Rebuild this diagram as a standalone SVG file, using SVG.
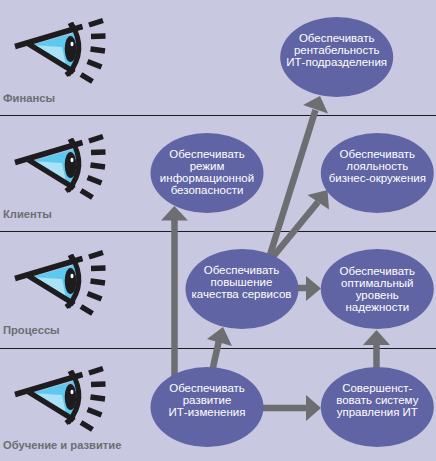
<svg xmlns="http://www.w3.org/2000/svg" xmlns:xlink="http://www.w3.org/1999/xlink" width="436" height="461" viewBox="0 0 436 461">
<style>
.n{fill:#6064a4}
.t{font-family:"Liberation Sans",Arial,sans-serif;font-size:11.500px;fill:#fff;text-anchor:middle}
.l{font-family:"Liberation Sans",Arial,sans-serif;font-size:11.200px;font-weight:bold;fill:#6d6e71}
.r{stroke:#1c1c20;stroke-width:1.2}
.c{stroke:#6d6e71;stroke-width:6.500;fill:none}
.h{fill:#6d6e71}
.k{stroke:#1e1c1f;fill:none;stroke-linecap:butt}
</style>
<defs>
<g id="eye">
<path d="M31 45 L74 33 Q83 55 70 68 Z" fill="#5fc8ee"/>
<path d="M31 45 L62 47 L66 66 Z" fill="#a9e2f6"/>
<path d="M15 46.500 L82.500 26.500 M27 43 L74 72" class="k" stroke-width="5.500"/>
<path d="M71 23 Q88 50 68 75" class="k" stroke-width="5"/>
<path d="M70 23 L74 31 M66 75 L74 69" class="k" stroke-width="5"/>
<ellipse cx="70.500" cy="49" rx="5.800" ry="13" fill="#1e1c1f"/>
<ellipse cx="72" cy="44" rx="1.500" ry="2.200" fill="#fff"/>
<path d="M89 25 L103 20.500 M91 36.500 L105.500 36 M90.500 49 L105 51 M87.500 61.500 L101.500 67 M81 74.500 L92.500 81.500" class="k" stroke-width="5.500"/>
</g>
</defs>
<rect width="436" height="461" fill="#c8c8e0"/>
<g id="rules">
<path class="r" d="M0 115.500H436M0 231.500H436M0 348.500H436"/>
</g>
<g id="connectors">
<path class="c" d="M174.500 380V218"/><path class="h" d="M174.300 206L188 220.500H161Z"/>
<path class="c" d="M212 372L219.500 338"/><path class="h" d="M223 327L232 346L207 339Z"/>
<path class="c" d="M269 258L315.500 110"/><path class="h" d="M320 96L328 113.500L303 105Z"/>
<path class="c" d="M272 258L318 202"/><path class="h" d="M327.500 190L329 209.500L307.500 195Z"/>
<path class="c" d="M297 288H308"/><path class="h" d="M321 288.500L306 276V301Z"/>
<path class="c" d="M262 408H308"/><path class="h" d="M321 408L306 395V421Z"/>
<path class="c" d="M376.500 368V343"/><path class="h" d="M376.500 330L390 345H363Z"/>
</g>
<g id="eye-finance"><use xlink:href="#eye"/></g>
<g id="eye-clients"><use xlink:href="#eye" y="116"/></g>
<g id="eye-process"><use xlink:href="#eye" y="232"/></g>
<g id="eye-learn"><use xlink:href="#eye" y="348"/></g>
<g id="label-finance"><text class="l" x="3" y="102">Финансы</text></g>
<g id="label-clients"><text class="l" x="3" y="218">Клиенты</text></g>
<g id="label-process"><text class="l" x="3" y="334">Процессы</text></g>
<g id="label-learn"><text class="l" x="3" y="449">Обучение и развитие</text></g>
<g id="node-profit"><ellipse class="n" cx="336.700" cy="57" rx="56.500" ry="40"/>
<text class="t" x="336.700" y="42">Обеспечивать</text><text class="t" x="336.700" y="54">рентабельность</text><text class="t" x="336.700" y="66">ИТ-подразделения</text></g>
<g id="node-security"><ellipse class="n" cx="207" cy="173" rx="56.500" ry="40"/>
<text class="t" x="207" y="158">Обеспечивать</text><text class="t" x="207" y="170">режим</text><text class="t" x="207" y="182">информационной</text><text class="t" x="207" y="194">безопасности</text></g>
<g id="node-loyalty"><ellipse class="n" cx="377.300" cy="173" rx="56.500" ry="40"/>
<text class="t" x="377.300" y="158">Обеспечивать</text><text class="t" x="377.300" y="170">лояльность</text><text class="t" x="377.300" y="182">бизнес-окружения</text></g>
<g id="node-quality"><ellipse class="n" cx="242" cy="289" rx="56.500" ry="40"/>
<text class="t" x="241.500" y="273.500">Обеспечивать</text><text class="t" x="241.500" y="285.500">повышение</text><text class="t" x="241.500" y="297.500">качества сервисов</text></g>
<g id="node-reliability"><ellipse class="n" cx="377.300" cy="289" rx="56.500" ry="40"/>
<text class="t" x="377.300" y="275">Обеспечивать</text><text class="t" x="377.300" y="287">оптимальный</text><text class="t" x="377.300" y="299">уровень</text><text class="t" x="377.300" y="311">надежности</text></g>
<g id="node-change"><ellipse class="n" cx="207" cy="407" rx="56.500" ry="40"/>
<text class="t" x="207" y="392">Обеспечивать</text><text class="t" x="207" y="404">развитие</text><text class="t" x="207" y="416">ИТ-изменения</text></g>
<g id="node-system"><ellipse class="n" cx="377.300" cy="407" rx="56.500" ry="40"/>
<text class="t" x="377.300" y="392">Совершенст-</text><text class="t" x="377.300" y="404">вовать систему</text><text class="t" x="377.300" y="416">управления ИТ</text></g>
</svg>
